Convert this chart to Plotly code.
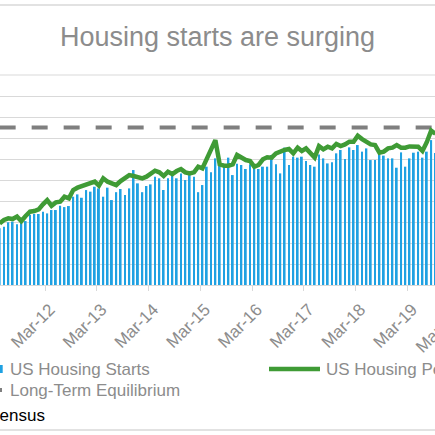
import pandas as pd
import plotly.graph_objects as go

# monthly data, Apr 2011 .. Sep 2019 (thousands, SAAR)
months = pd.date_range("2011-04-01", "2019-09-01", freq="MS")

housing_starts = [
    540, 555, 597, 603, 578, 603, 609, 666, 676, 676, 698,
    682, 714, 714, 755, 742, 752, 841, 863, 831, 904, 889, 936,
    920, 841, 927, 809, 884, 914, 857, 920, 1095, 968, 884, 943,
    958, 1032, 1016, 905, 1016, 1047, 1016, 1063, 1000, 1047, 1032, 884,
    952, 1127, 1073, 1206, 1143, 1143, 1213, 1047, 1155, 1143, 1105, 1150,
    1111, 1105, 1127, 1127, 1238, 1150, 1063, 1308, 1143, 1222, 1213, 1222,
    1181, 1143, 1127, 1244, 1206, 1158, 1168, 1254, 1286, 1200, 1311, 1286,
    1333, 1270, 1301, 1190, 1190, 1244, 1232, 1206, 1206, 1117, 1263, 1127,
    1206, 1260, 1270, 1213, 1270, 1380, 1256,
]

housing_permits = [
    587, 619, 635, 628, 651, 609, 657, 698, 704, 720, 768,
    809, 755, 787, 793, 841, 825, 904, 927, 943, 952, 974, 984,
    946, 1016, 984, 968, 952, 990, 1016, 1047, 1038, 1022, 1016, 1032,
    1054, 1088, 1073, 1038, 1079, 1057, 1085, 1104, 1073, 1063, 1073, 1127,
    1111, 1200, 1270, 1380, 1149, 1136, 1136, 1149, 1238, 1213, 1190, 1181,
    1127, 1143, 1197, 1216, 1213, 1254, 1276, 1286, 1295, 1254, 1308, 1276,
    1301, 1263, 1213, 1323, 1292, 1317, 1301, 1343, 1323, 1339, 1365, 1365,
    1422, 1390, 1358, 1339, 1333, 1260, 1270, 1301, 1308, 1333, 1308, 1308,
    1320, 1323, 1317, 1276, 1360, 1470, 1440,
]

equilibrium_level = 1500

title_text = "Housing starts are surging"
name_starts = "US Housing Starts"
name_permits = "US Housing Permits"
name_equilibrium = "Long-Term Equilibrium"
source_text = "Source: Census"

BLUE = "#1fa1e2"
GREEN = "#3f9b35"
GREY = "#7f7f7f"
TEXT = "#8c8c8c"
GRID = "#d9d9d9"
FONT = "Liberation Sans, Arial, sans-serif"

W, H = 435, 435
T, B = 75, 150
PH = H - T - B


def px_x(px):
    return px / W


def px_y(py):
    return (H - B - py) / PH


fig = go.Figure()
fig.add_trace(go.Bar(x=months, y=housing_starts, name=name_starts,
                     xperiod="M1", xperiodalignment="middle",
                     marker=dict(color=BLUE, line=dict(width=0))))
fig.add_trace(go.Scatter(x=months, y=[equilibrium_level] * len(months), name=name_equilibrium,
                         mode="lines", xperiod="M1", xperiodalignment="middle",
                         line=dict(color=GREY, width=4, dash="16px,16px")))
fig.add_trace(go.Scatter(x=months, y=housing_permits, name=name_permits,
                         mode="lines", xperiod="M1", xperiodalignment="middle",
                         line=dict(color=GREEN, width=4.5)))

shapes = [
    # chart border (top/bottom)
    dict(type="line", xref="paper", yref="paper", x0=-0.1, x1=1.1, y0=px_y(5), y1=px_y(5),
         line=dict(color=GRID, width=1.5)),
    dict(type="line", xref="paper", yref="paper", x0=-0.1, x1=1.1, y0=px_y(430), y1=px_y(430),
         line=dict(color=GRID, width=1.5)),
    # top gridline sits on the plot edge
    dict(type="line", xref="paper", yref="paper", x0=0, x1=1, y0=1, y1=1,
         line=dict(color=GRID, width=1)),
    # legend symbols
    dict(type="rect", xref="paper", yref="paper", x0=px_x(-6), x1=px_x(2.7),
         y0=px_y(373), y1=px_y(365), fillcolor=BLUE, line=dict(width=0)),
    dict(type="line", xref="paper", yref="paper", x0=px_x(269), x1=px_x(320),
         y0=px_y(369), y1=px_y(369), line=dict(color=GREEN, width=4.5)),
    dict(type="line", xref="paper", yref="paper", x0=px_x(-14), x1=px_x(2),
         y0=px_y(390), y1=px_y(390), line=dict(color=GREY, width=4)),
]

legend_font = dict(family=FONT, size=17, color=TEXT)
annotations = [
    dict(text=name_starts, xref="paper", yref="paper", x=px_x(8), y=px_y(369),
         xanchor="left", yanchor="middle", showarrow=False, font=legend_font),
    dict(text=name_permits, xref="paper", yref="paper", x=px_x(324), y=px_y(369),
         xanchor="left", yanchor="middle", showarrow=False, font=legend_font),
    dict(text=name_equilibrium, xref="paper", yref="paper", x=px_x(8), y=px_y(390),
         xanchor="left", yanchor="middle", showarrow=False, font=legend_font),
    dict(text=source_text, xref="paper", yref="paper", x=px_x(47), y=px_y(415),
         xanchor="right", yanchor="middle", showarrow=False,
         font=dict(family=FONT, size=17, color="black")),
    # next year's tick label, only its first letter falls inside the picture
    dict(text="Mar-20", xref="paper", yref="paper", x=px_x(467), y=px_y(302),
         xanchor="right", yanchor="top", textangle=-45, showarrow=False,
         font=dict(family=FONT, size=17, color=TEXT)),
]

fig.update_layout(
    width=W, height=H,
    margin=dict(l=0, r=0, t=T, b=B, pad=0),
    paper_bgcolor="white", plot_bgcolor="white",
    showlegend=False,
    bargap=0.55,
    title=dict(text=title_text, x=0.5, xanchor="center", y=1 - 37 / H, yanchor="middle",
               xref="container", yref="container",
               font=dict(family=FONT, size=27, color=TEXT)),
    xaxis=dict(type="date", range=["2011-04-18 12:00", "2019-09-12 12:00"],
               tick0="2012-03-01", dtick="M12", tickformat="%b-%y", tickangle=-45,
               ticks="outside", ticklen=5, tickcolor=GRID, showgrid=False,
               showline=True, linecolor=GRID, linewidth=1,
               ticklabelstandoff=2, ticklabelshift=5,
               tickfont=dict(family=FONT, size=17, color=TEXT), automargin=False),
    yaxis=dict(range=[0, 2000], dtick=200, showgrid=True, gridcolor=GRID, gridwidth=1,
               zeroline=False, showticklabels=False, automargin=False),
    shapes=shapes,
    annotations=annotations,
    font=dict(family=FONT),
)

# page has a default body margin; drop it so the figure sits at the window corner
fig.write_html("out.html", config={"displayModeBar": False},
               post_script="document.body.style.margin='0';")
